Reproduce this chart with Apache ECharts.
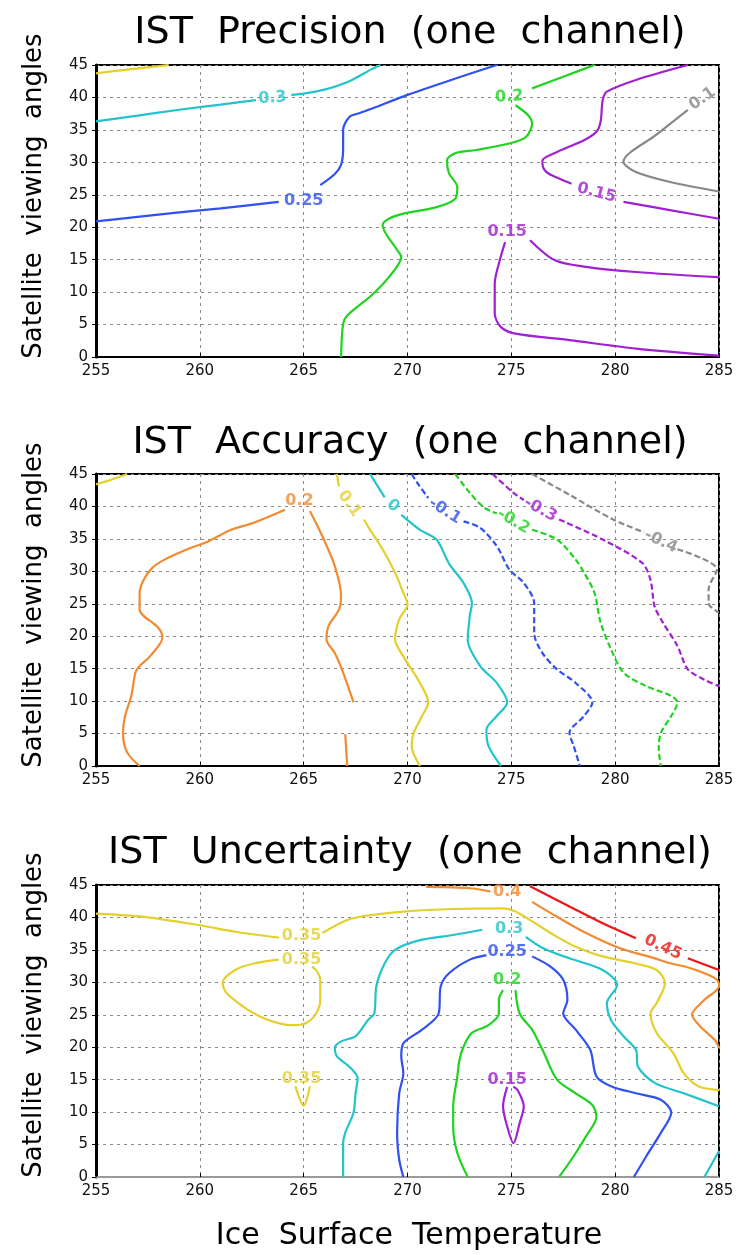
<!DOCTYPE html>
<html>
<head>
<meta charset="utf-8">
<script src="https://cdn.jsdelivr.net/npm/echarts@6/dist/echarts.min.js"></script>
<style>
html,body{margin:0;padding:0;background:#fff;}
#chart{width:739px;height:1255px;}
</style>
</head>
<body>
<div id="chart"></div>
<script>
// ---------- axis ticks ----------
const xTicks = [255, 260, 265, 270, 275, 280, 285];
const yTicks = [0, 5, 10, 15, 20, 25, 30, 35, 40, 45];

// ---------- titles ----------
const titles = ['IST  Precision  (one  channel)', 'IST  Accuracy  (one  channel)', 'IST  Uncertainty  (one  channel)'];
const yTitle = 'Satellite  viewing  angles';
const xTitle = 'Ice  Surface  Temperature';

// ---------- Plot 1: Precision contour lines [temperature, angle] ----------
const P_yellow = [[255,43.7],[256.5,44.3],[258.5,45]];
const P_030a = [[255,36.3],[257,37.2],[259,38.1],[261,38.9],[262.7,39.6]];
const P_030b = [[264.4,40.4],[265,40.6],[266,41.2],[267.2,42.5],[268.3,44.4],[268.7,45]];
const P_025a = [[255,20.9],[257,21.6],[259,22.3],[261,22.9],[263.8,23.9]];
const P_025b = [[265.8,26.5],[266.5,28.2],[266.8,29.6],[266.9,32],[266.9,35],[267.2,37],[267.7,37.6],[268.3,38.3],[270,40.4],[272.2,42.8],[274.3,45]];
const P_020a = [[266.8,0],[266.9,5.1],[267.1,6.4],[268.3,9.6],[269.1,12.3],[269.7,15.4],[269.5,16.5],[268.8,20.3],[269.1,21.3],[269.8,22.1],[271.4,23.1],[272.3,24.4],[272.4,26.2],[272,28.3],[271.9,30.3],[272.3,31.4],[273.3,31.9],[274.9,32.9],[275.7,33.9],[276,36],[275.8,37.3],[275.2,38.8]];
const P_020b = [[276,41.4],[277.5,43.2],[279,45]];
const P_015a = [[283.5,45],[281,42.7],[279.6,40.9],[279.4,39.6],[279.3,36.3],[279.1,34.7],[278.5,33.4],[277.2,31.6],[276.5,30.3],[276.5,29.8],[276.7,28.5],[277.3,27.5],[277.9,26.7]];
const P_015b = [[280.4,23.9],[282.7,22.6],[285,21.3]];
const P_015c = [[275.9,18],[277.1,14.9],[278.6,13.9],[281,13.1],[285,12.3]];
const P_015d = [[274.7,17.7],[274.4,14.4],[274.2,11.3],[274.2,6.7],[274.5,4.6],[275.2,3.6],[277.8,2.6],[281,1.3],[285,0.2]];
const P_010 = [[283.5,38.1],[282,34.3],[280.4,30.1],[281,28.5],[282.6,27],[285,25.5]];
const P_labels = [[263.5,39.9,'0.3'],[265,24,'0.25'],[274.9,40.1,'0.2'],[279.1,25.3,'0.15'],[274.8,19.3,'0.15'],[284.2,39.8,'0.1']];

// ---------- Plot 2: Accuracy ----------
const A_yellowTop = [[255,43.4],[255.8,44.2],[256.5,45]];
const A_020a = [[257.1,0],[256.5,2.1],[256.3,5.1],[256.4,7.7],[256.7,10.8],[256.9,14.4],[257.1,15.4],[257.6,16.9],[258.2,19.8],[258,21.3],[257.1,24.1],[257.1,26.7],[257.3,28.7],[257.7,30.5],[258.3,31.8],[259.4,33.4],[260.4,34.6],[261.5,36.4],[262.6,37.5],[264.1,39.5]];
const A_020b = [[265.3,39.3],[265.9,35.4],[266.5,30.8],[266.8,26.2],[266.7,24.1],[266.2,21.6],[266.1,19.5],[266.5,17.4],[266.9,14.4],[267.4,9.8]];
const A_020c = [[267,4.9],[267.1,0]];
const A_010a = [[266.6,45],[266.7,43.1]];
const A_010b = [[267.9,38],[268.1,36.9],[268.8,33.4],[269.4,29.8],[269.8,26.7],[270,24.9],[269.6,22.6],[269.4,19.5],[269.8,16.9],[270.6,12.8],[271,9.8],[270.7,7.7],[270.3,5.1],[270.2,3.1],[270.6,0]];
const A_000a = [[268.2,45],[268.9,41.4]];
const A_000b = [[269.7,38.7],[270.6,36.4],[271.4,34.9],[272,31.2],[272.7,28.2],[273.1,25.1],[273,23.1],[272.9,19.5],[273.5,15.4],[274.3,12.8],[274.8,9.8],[274.3,7.7],[273.8,5.6],[273.9,3.1],[274.5,0]];
const A_m010a = [[270.2,45],[270.5,43.5],[271,41.3]];
const A_m010b = [[272.7,37.7],[273.5,36.7],[274.3,33.9],[274.9,30.3],[275.6,28.2],[276.1,25.1],[276.1,20.5],[276.5,17.4],[277.2,14.9],[278.1,12.8],[278.9,9.8],[278.5,7.7],[277.8,5.1],[278,3.1],[278.3,0]];
const A_m020a = [[272.3,45],[273,42.1],[273.7,39.8],[274.3,38.9]];
const A_m020b = [[276,36.4],[277.2,34.9],[278.1,31.8],[278.5,29.8],[279,26.7],[279.3,22.1],[279.8,18],[280.4,14.4],[281.5,12.3],[282.7,10.8],[283,9.8],[282.7,7.7],[282.2,5.1],[282.1,2.6],[282.2,0]];
const A_m030a = [[274.1,45],[275.1,42.1],[275.6,41]];
const A_m030b = [[277.3,38],[279.4,34.9],[281.3,31.3],[281.7,28.7],[281.9,24.6],[282.3,22.1],[283,18.5],[283.5,14.9],[284.3,13.3],[285,12.3]];
const A_m040a = [[276,45],[277.8,41.8],[279.9,38],[281.4,36]];
const A_m040b = [[283,33.4],[284.9,30.3],[284.5,27.2],[284.5,25.1],[285,23.6]];
const A_labels = [[264.8,40.8,'0.2'],[267.2,40.4,'0.1'],[269.3,40.1,'0'],[271.8,39.3,'-0.1'],[275.1,37.7,'-0.2'],[276.4,39.5,'-0.3'],[282.2,34.6,'-0.4']];

// ---------- Plot 3: Uncertainty ----------
const U_035a = [[255,40.6],[257.3,40.1],[260,38.8],[261.7,37.8],[263.8,36.9]];
const U_035b = [[265.9,37.6],[267.1,39.6],[268.1,40.3],[269.8,40.9],[272.2,41.3],[274.6,41.4],[275.2,40.9],[276,39.4],[277.2,37],[278.1,35.5],[279.4,34],[281,32.9],[282,31.9],[282.4,29.9],[282,26.8],[281.7,25.2],[282,22.2],[282.8,19.1],[283.3,16],[284,14],[285,13.4]];
const U_035loop = [[263.8,33.5],[262.6,32.9],[261.7,31.9],[261.1,29.9],[261.3,28.3],[262.3,25.8],[263.3,24.2],[264.4,23.4],[265.1,23.7],[265.6,25.2],[265.8,27.3],[265.8,30.4],[265.6,31.9],[265.4,32.4]];
const U_035small = [[264.6,14],[265,11],[265.3,14]];
const U_030a = [[266.9,0],[266.9,5.2],[267,6.8],[267.4,9.9],[267.5,12.9],[267.6,15.2],[267.2,17],[266.6,18.6],[266.5,19.9],[266.8,20.9],[267.5,21.7],[268.1,24.2],[268.4,25.2],[268.5,29.4],[268.9,32.9],[269.4,35],[270.6,36.5],[272.2,37.3],[273.6,38.1]];
const U_030b = [[275.7,37],[276.5,35.3],[277.8,33.7],[279.4,31.9],[280.1,29.6],[279.6,26.8],[279.8,24.2],[280.4,21.7],[281,19.6],[281.1,17],[281.9,14.5],[283.3,12.9],[285,10.9]];
const U_030c = [[284.3,0],[285,4]];
const U_025a = [[269.8,0],[269.6,2.7],[269.5,6.8],[269.6,12.9],[269.8,16],[269.7,18.6],[269.8,20.6],[270.7,22.7],[271.5,25.2],[271.6,29.4],[272,31.4],[273,33.5],[273.8,34.2]];
const U_025b = [[276,34],[276.9,32.4],[277.5,30.4],[277.7,27.3],[277.5,25.2],[278.1,22.7],[278.8,19.6],[279.1,15.5],[279.8,14],[281,12.9],[282.2,11.9],[282.7,9.9],[282.2,6.8],[281.5,3.2],[280.9,0]];
const U_020a = [[272.9,0],[272.4,3.7],[272.2,7.8],[272.2,10.9],[272.4,15.5],[272.5,18],[272.7,20.1],[273.1,22.2],[273.9,23.4],[274.4,25.2],[274.4,27.3],[274.6,28.8]];
const U_020b = [[275.2,28.8],[275.4,25.2],[276,22.7],[276.5,19.6],[277.2,15],[278.1,12.9],[278.9,11.1],[279.1,9.3],[278.6,6.3],[278,3.2],[277.3,0]];
const U_015 = [[274.8,13.9],[274.6,10.9],[274.8,7.8],[275.1,5.2],[275.4,8.3],[275.6,10.9],[275.3,13.4],[275.1,13.9]];
const U_040a = [[270.9,44.7],[273,44.5],[274,44]];
const U_040b = [[276,42.4],[277.2,40.1],[278.6,37.6],[280.2,35.3],[281.9,33.7],[282.7,32.9],[283.4,32.4],[284.3,31.4],[284.9,30.4],[285,29.4],[284.3,27.3],[283.7,25],[284.1,23.2],[284.8,21.1],[285,19.9]];
const U_045a = [[275.9,44.8],[277.8,41.7],[279.4,39.1],[281,36.8]];
const U_045b = [[283.5,33.7],[285,31.9]];
const U_labels = [[264.9,37.1,'0.35'],[264.9,33.5,'0.35'],[264.9,15.2,'0.35'],[274.8,44,'0.4'],[274.9,38.3,'0.3'],[274.8,34.7,'0.25'],[274.8,30.4,'0.2'],[274.8,15,'0.15'],[282.3,35.4,'0.45']];

// ---------- styles ----------
const C = {
  yellow:'#e3d02c', cyan:'#22c4cc', blue:'#3050f2', green:'#1fd31f',
  purple:'#a020d2', gray:'#888888', orange:'#f28a30', red:'#f01414'
};
const P_labelColors = [C.cyan, C.blue, C.green, C.purple, C.purple, C.gray];
const P_labelRot = [4, 0, 3, -15, 0, 35];
const A_labelColors = [C.orange, C.yellow, C.cyan, C.blue, C.green, C.purple, C.gray];
const A_labelRot = [0, -55, -40, -32, -30, -28, -25];
const U_labelColors = [C.yellow, C.yellow, C.yellow, C.orange, C.cyan, C.blue, C.green, C.purple, C.red];
const U_labelRot = [0, 0, 0, 0, 0, 0, 0, 0, -25];

const gridTops = [65, 474, 885];
const gridH = 292;
const gridLeft = 96, gridW = 623;

const series = [];
function line(gi, data, color, dashed) {
  series.push({
    type:'line', xAxisIndex:gi, yAxisIndex:gi, data:data,
    symbol:'none', showSymbol:false, smooth:0.3, silent:true, animation:false, z:3,
    lineStyle:{color:color, width:2.2, type: dashed ? [6,3] : 'solid'}
  });
}
function labels(gi, arr, colors, rots) {
  series.push({
    type:'scatter', xAxisIndex:gi, yAxisIndex:gi, silent:true, animation:false, z:5,
    symbolSize:1, itemStyle:{color:'rgba(0,0,0,0)'},
    data: arr.map((d,i)=>({
      value:[d[0], d[1]], name:d[2],
      label:{show:true, position:'inside', formatter:d[2], rotate:rots[i],
             color:colors[i], fontSize:16, fontWeight:'bold', fontFamily:'DejaVu Sans'}
    }))
  });
}

// plot 1
line(0, P_yellow, C.yellow);
line(0, P_030a, C.cyan); line(0, P_030b, C.cyan);
line(0, P_025a, C.blue); line(0, P_025b, C.blue);
line(0, P_020a, C.green); line(0, P_020b, C.green);
line(0, P_015a, C.purple); line(0, P_015b, C.purple);
line(0, P_015c, C.purple); line(0, P_015d, C.purple);
line(0, P_010, C.gray);
labels(0, P_labels, P_labelColors, P_labelRot);

// plot 2
line(1, A_yellowTop, C.yellow);
line(1, A_020a, C.orange); line(1, A_020b, C.orange); line(1, A_020c, C.orange);
line(1, A_010a, C.yellow); line(1, A_010b, C.yellow);
line(1, A_000a, C.cyan); line(1, A_000b, C.cyan);
line(1, A_m010a, C.blue, true); line(1, A_m010b, C.blue, true);
line(1, A_m020a, C.green, true); line(1, A_m020b, C.green, true);
line(1, A_m030a, C.purple, true); line(1, A_m030b, C.purple, true);
line(1, A_m040a, C.gray, true); line(1, A_m040b, C.gray, true);
labels(1, A_labels, A_labelColors, A_labelRot);

// plot 3
line(2, U_035a, C.yellow); line(2, U_035b, C.yellow);
line(2, U_035loop, C.yellow); line(2, U_035small, C.yellow);
line(2, U_030a, C.cyan); line(2, U_030b, C.cyan); line(2, U_030c, C.cyan);
line(2, U_025a, C.blue); line(2, U_025b, C.blue);
line(2, U_020a, C.green); line(2, U_020b, C.green);
line(2, U_015, C.purple);
line(2, U_040a, C.orange); line(2, U_040b, C.orange);
line(2, U_045a, C.red); line(2, U_045b, C.red);
labels(2, U_labels, U_labelColors, U_labelRot);

const grids = gridTops.map(t => ({left:gridLeft, top:t, width:gridW, height:gridH, show:true, borderColor:'#000', borderWidth:2, backgroundColor:'#fff'}));
const splitStyle = {show:true, lineStyle:{color:'#8a8a8a', type:[3,4], width:1}};
const xAxes = gridTops.map((t,i) => ({
  gridIndex:i, type:'value', min:xTicks[0], max:xTicks[xTicks.length-1], interval:xTicks[1]-xTicks[0],
  axisLine:{show:true, onZero:false, lineStyle:{color: i===2 ? '#9a9a9a' : '#000', width:2}},
  axisTick:{show:true, inside:true, length:4, lineStyle:{color:'#000'}},
  axisLabel:{color:'#111', fontSize:15, fontFamily:'DejaVu Sans', margin:7},
  splitLine:splitStyle
}));
const yAxes = gridTops.map((t,i) => ({
  gridIndex:i, type:'value', min:yTicks[0], max:yTicks[yTicks.length-1], interval:yTicks[1]-yTicks[0],
  axisLine:{show:true, onZero:false, lineStyle:{color:'#000', width:3}},
  axisTick:{show:true, inside:false, length:4, lineStyle:{color:'#000'}},
  axisLabel:{color:'#111', fontSize:15, fontFamily:'DejaVu Sans', margin:8},
  splitLine:splitStyle
}));

const titleCenters = [33.6, 443.6, 853.6];
const yTitleCenters = [196, 605, 1015];
const graphics = [];
titles.forEach((t,i)=>{
  graphics.push({type:'text', x:410, y:titleCenters[i], silent:true,
    style:{text:t, font:'38px "DejaVu Sans"', fill:'#000', align:'center', verticalAlign:'middle'}});
});
yTitleCenters.forEach(c=>{
  graphics.push({type:'text', x:34, y:c, rotation:Math.PI/2, silent:true,
    style:{text:yTitle, font:'26px "DejaVu Sans"', fill:'#000', align:'center', verticalAlign:'middle'}});
});
graphics.push({type:'text', x:409, y:1236, silent:true,
  style:{text:xTitle, font:'30px "DejaVu Sans"', fill:'#000', align:'center', verticalAlign:'middle'}});

const chart = echarts.init(document.getElementById('chart'), null, {renderer:'canvas'});
chart.setOption({
  animation:false,
  backgroundColor:'#fff',
  grid:grids, xAxis:xAxes, yAxis:yAxes,
  graphic:graphics,
  series:series
});
</script>
</body>
</html>
